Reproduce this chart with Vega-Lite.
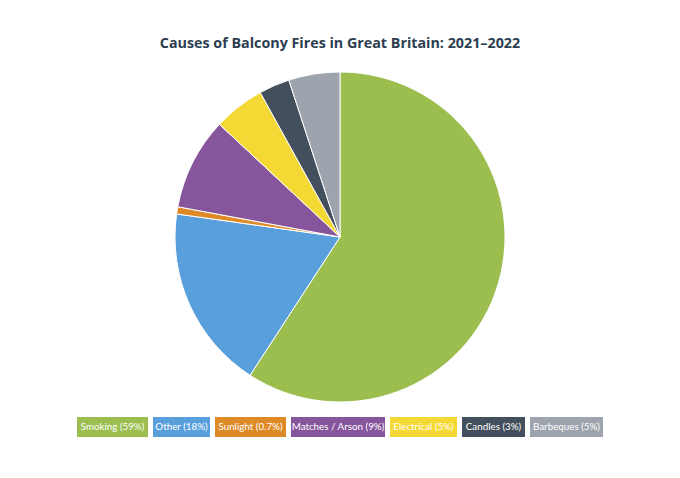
{
  "$schema": "https://vega.github.io/schema/vega-lite/v6.json",
  "padding": {"top": 36, "left": 0, "right": 0, "bottom": 0},
  "background": "white",
  "title": {"text": "Causes of Balcony Fires in Great Britain: 2021–2022", "anchor": "middle", "font": "Open Sans", "fontSize": 14.3, "fontWeight": "bold", "color": "#2c3e50", "offset": 16},
  "datasets": {
    "causes": [
      {"cause": "Smoking", "label": "Smoking (59%)", "value": 59},
      {"cause": "Other", "label": "Other (18%)", "value": 18},
      {"cause": "Sunlight", "label": "Sunlight (0.7%)", "value": 0.7},
      {"cause": "Matches / Arson", "label": "Matches / Arson (9%)", "value": 9},
      {"cause": "Electrical", "label": "Electrical (5%)", "value": 5},
      {"cause": "Candles", "label": "Candles (3%)", "value": 3},
      {"cause": "Barbeques", "label": "Barbeques (5%)", "value": 5}
    ]
  },
  "config": {"view": {"stroke": null}, "concat": {"spacing": 5}},
  "vconcat": [
    {
      "width": 680,
      "height": 340,
      "data": {"name": "causes"},
      "transform": [{"window": [{"op": "row_number", "as": "rank"}]}],
      "mark": {"type": "arc", "outerRadius": 165, "stroke": "white", "strokeWidth": 1},
      "encoding": {
        "theta": {"field": "value", "type": "quantitative", "stack": true},
        "order": {"field": "rank", "type": "quantitative", "sort": "ascending"},
        "color": {"field": "cause", "type": "nominal",
          "scale": {"domain": ["Smoking", "Other", "Sunlight", "Matches / Arson", "Electrical", "Candles", "Barbeques"], "range": ["#9bbe4f", "#599fdc", "#de8a27", "#87559c", "#f4d934", "#434f5c", "#9ea4ad"]}, "legend": null}
      }
    },
    {
      "spacing": 5,
      "hconcat": [
        {"width": 71, "height": 20, "data": {"name": "causes"}, "transform": [{"filter": "datum.cause === 'Smoking'"}],
          "layer": [{"mark": {"type": "bar", "color": "#9bbe4f"}, "encoding": {"x": {"field": "label", "type": "nominal", "axis": null, "scale": {"paddingInner": 0, "paddingOuter": 0}}}},
                    {"mark": {"type": "text", "color": "white", "font": "Lato", "fontSize": 9.8}, "encoding": {"x": {"field": "label", "type": "nominal", "axis": null}, "text": {"field": "label"}}}]},
        {"width": 57, "height": 20, "data": {"name": "causes"}, "transform": [{"filter": "datum.cause === 'Other'"}],
          "layer": [{"mark": {"type": "bar", "color": "#599fdc"}, "encoding": {"x": {"field": "label", "type": "nominal", "axis": null, "scale": {"paddingInner": 0, "paddingOuter": 0}}}},
                    {"mark": {"type": "text", "color": "white", "font": "Lato", "fontSize": 9.8}, "encoding": {"x": {"field": "label", "type": "nominal", "axis": null}, "text": {"field": "label"}}}]},
        {"width": 71, "height": 20, "data": {"name": "causes"}, "transform": [{"filter": "datum.cause === 'Sunlight'"}],
          "layer": [{"mark": {"type": "bar", "color": "#de8a27"}, "encoding": {"x": {"field": "label", "type": "nominal", "axis": null, "scale": {"paddingInner": 0, "paddingOuter": 0}}}},
                    {"mark": {"type": "text", "color": "white", "font": "Lato", "fontSize": 9.8}, "encoding": {"x": {"field": "label", "type": "nominal", "axis": null}, "text": {"field": "label"}}}]},
        {"width": 94, "height": 20, "data": {"name": "causes"}, "transform": [{"filter": "datum.cause === 'Matches / Arson'"}],
          "layer": [{"mark": {"type": "bar", "color": "#87559c"}, "encoding": {"x": {"field": "label", "type": "nominal", "axis": null, "scale": {"paddingInner": 0, "paddingOuter": 0}}}},
                    {"mark": {"type": "text", "color": "white", "font": "Lato", "fontSize": 9.8}, "encoding": {"x": {"field": "label", "type": "nominal", "axis": null}, "text": {"field": "label"}}}]},
        {"width": 67, "height": 20, "data": {"name": "causes"}, "transform": [{"filter": "datum.cause === 'Electrical'"}],
          "layer": [{"mark": {"type": "bar", "color": "#f4d934"}, "encoding": {"x": {"field": "label", "type": "nominal", "axis": null, "scale": {"paddingInner": 0, "paddingOuter": 0}}}},
                    {"mark": {"type": "text", "color": "white", "font": "Lato", "fontSize": 9.8}, "encoding": {"x": {"field": "label", "type": "nominal", "axis": null}, "text": {"field": "label"}}}]},
        {"width": 63, "height": 20, "data": {"name": "causes"}, "transform": [{"filter": "datum.cause === 'Candles'"}],
          "layer": [{"mark": {"type": "bar", "color": "#434f5c"}, "encoding": {"x": {"field": "label", "type": "nominal", "axis": null, "scale": {"paddingInner": 0, "paddingOuter": 0}}}},
                    {"mark": {"type": "text", "color": "white", "font": "Lato", "fontSize": 9.8}, "encoding": {"x": {"field": "label", "type": "nominal", "axis": null}, "text": {"field": "label"}}}]},
        {"width": 73, "height": 20, "data": {"name": "causes"}, "transform": [{"filter": "datum.cause === 'Barbeques'"}],
          "layer": [{"mark": {"type": "bar", "color": "#9ea4ad"}, "encoding": {"x": {"field": "label", "type": "nominal", "axis": null, "scale": {"paddingInner": 0, "paddingOuter": 0}}}},
                    {"mark": {"type": "text", "color": "white", "font": "Lato", "fontSize": 9.8}, "encoding": {"x": {"field": "label", "type": "nominal", "axis": null}, "text": {"field": "label"}}}]}
      ]
    }
  ],
  "center": true,
  "spacing": 10
}
